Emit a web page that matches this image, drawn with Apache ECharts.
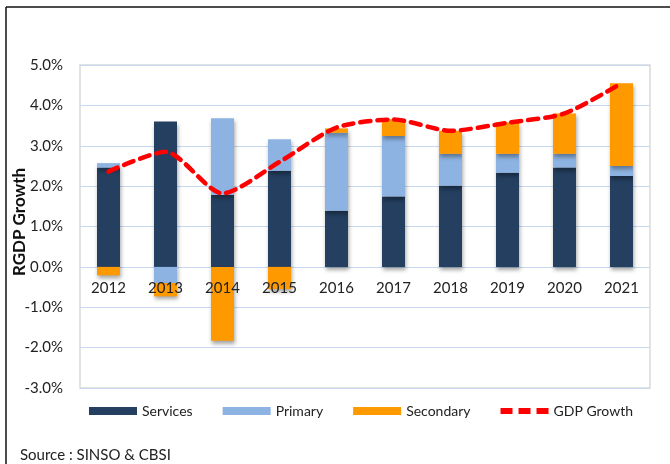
<!DOCTYPE html>
<html>
<head>
<meta charset="utf-8">
<script src="https://cdn.jsdelivr.net/npm/echarts@6/dist/echarts.min.js"></script>
<style>html,body{margin:0;padding:0;background:#fff;}#c{width:670px;height:464px;}</style>
</head>
<body>
<div id="c"></div>
<script>
var years = ['2012','2013','2014','2015','2016','2017','2018','2019','2020','2021'];
var services = [2.46, 3.60, 1.78, 2.38, 1.39, 1.74, 2.01, 2.33, 2.46, 2.25];
var primary = [0.11, -0.40, 1.90, 0.78, 1.93, 1.50, 0.79, 0.47, 0.34, 0.25];
var secondary = [-0.21, -0.33, -1.83, -0.55, 0.11, 0.42, 0.57, 0.78, 1.00, 2.05];
var gdpGrowth = [2.36, 2.85, 1.82, 2.60, 3.45, 3.65, 3.37, 3.57, 3.80, 4.55];

var FONT = 'Lato';
var chart = echarts.init(document.getElementById('c'));
var barShadow = {shadowColor:'rgba(0,0,0,0.35)', shadowBlur:4, shadowOffsetX:1, shadowOffsetY:3};
chart.setOption({
  animation:false,
  backgroundColor:'#fff',
  textStyle:{fontFamily:FONT},
  grid:{left:80, right:20, top:65, bottom:76, show:true, borderColor:'#d9d9d9', borderWidth:1.5, backgroundColor:'#fff', containLabel:false, outerBoundsMode:'none'},
  graphic:[
    {type:'line', shape:{x1:6,y1:7,x2:6,y2:464}, style:{stroke:'#111', lineWidth:1.5}},
    {type:'line', shape:{x1:6,y1:7,x2:670,y2:7}, style:{stroke:'#111', lineWidth:1.5}},
    {type:'text', left:20, top:448, style:{text:'Source : SINSO & CBSI', fontFamily:FONT, fontSize:15, fill:'#222'}},
    {type:'text', x:20, y:222, rotation:Math.PI/2,
     style:{text:'RGDP Growth', align:'center', verticalAlign:'middle', fontFamily:FONT, fontSize:17, fontWeight:'bold', fill:'#111'}}
  ],
  legend:{
    left:84, top:399, itemWidth:48, itemHeight:8, itemGap:30,
    textStyle:{fontFamily:FONT, fontSize:14, color:'#222'},
    data:[
      {name:'Services', icon:'rect'},
      {name:'Primary', icon:'rect'},
      {name:'Secondary', icon:'rect'},
      {name:'GDP Growth', icon:'path://M0,0h10v5h-10z M15,0h10v5h-10z M30,0h10v5h-10z', itemStyle:{color:'#ff0000'}}
    ]
  },
  xAxis:{
    type:'category', data:years, position:'bottom', offset:-121, z:10,
    axisLine:{show:false, onZero:false}, axisTick:{show:false},
    axisLabel:{fontFamily:FONT, fontSize:15, color:'#222', margin:14}
  },
  yAxis:{
    type:'value', min:-3, max:5, interval:1,
    axisLabel:{fontFamily:FONT, fontSize:15, color:'#222', margin:17, formatter:function(v){return v.toFixed(1)+'%';}},
    axisLine:{show:false}, axisTick:{show:false},
    splitLine:{lineStyle:{color:'#c6d9f0', width:1.2}}
  },
  series:[
    {name:'Services', type:'bar', stack:'g', barWidth:23, data:services, itemStyle:Object.assign({color:'#243f60'}, barShadow)},
    {name:'Primary', type:'bar', stack:'g', barWidth:23, data:primary, itemStyle:Object.assign({color:'#8db3e2'}, barShadow)},
    {name:'Secondary', type:'bar', stack:'g', barWidth:23, data:secondary, itemStyle:Object.assign({color:'#ff9900'}, barShadow)},
    {name:'GDP Growth', type:'line', data:gdpGrowth, smooth:0.25, symbol:'none', z:5,
     lineStyle:{color:'#ff0000', width:4.5, type:[10,7], cap:'round'}, itemStyle:{color:'#ff0000'}}
  ]
});
</script>
</body>
</html>
